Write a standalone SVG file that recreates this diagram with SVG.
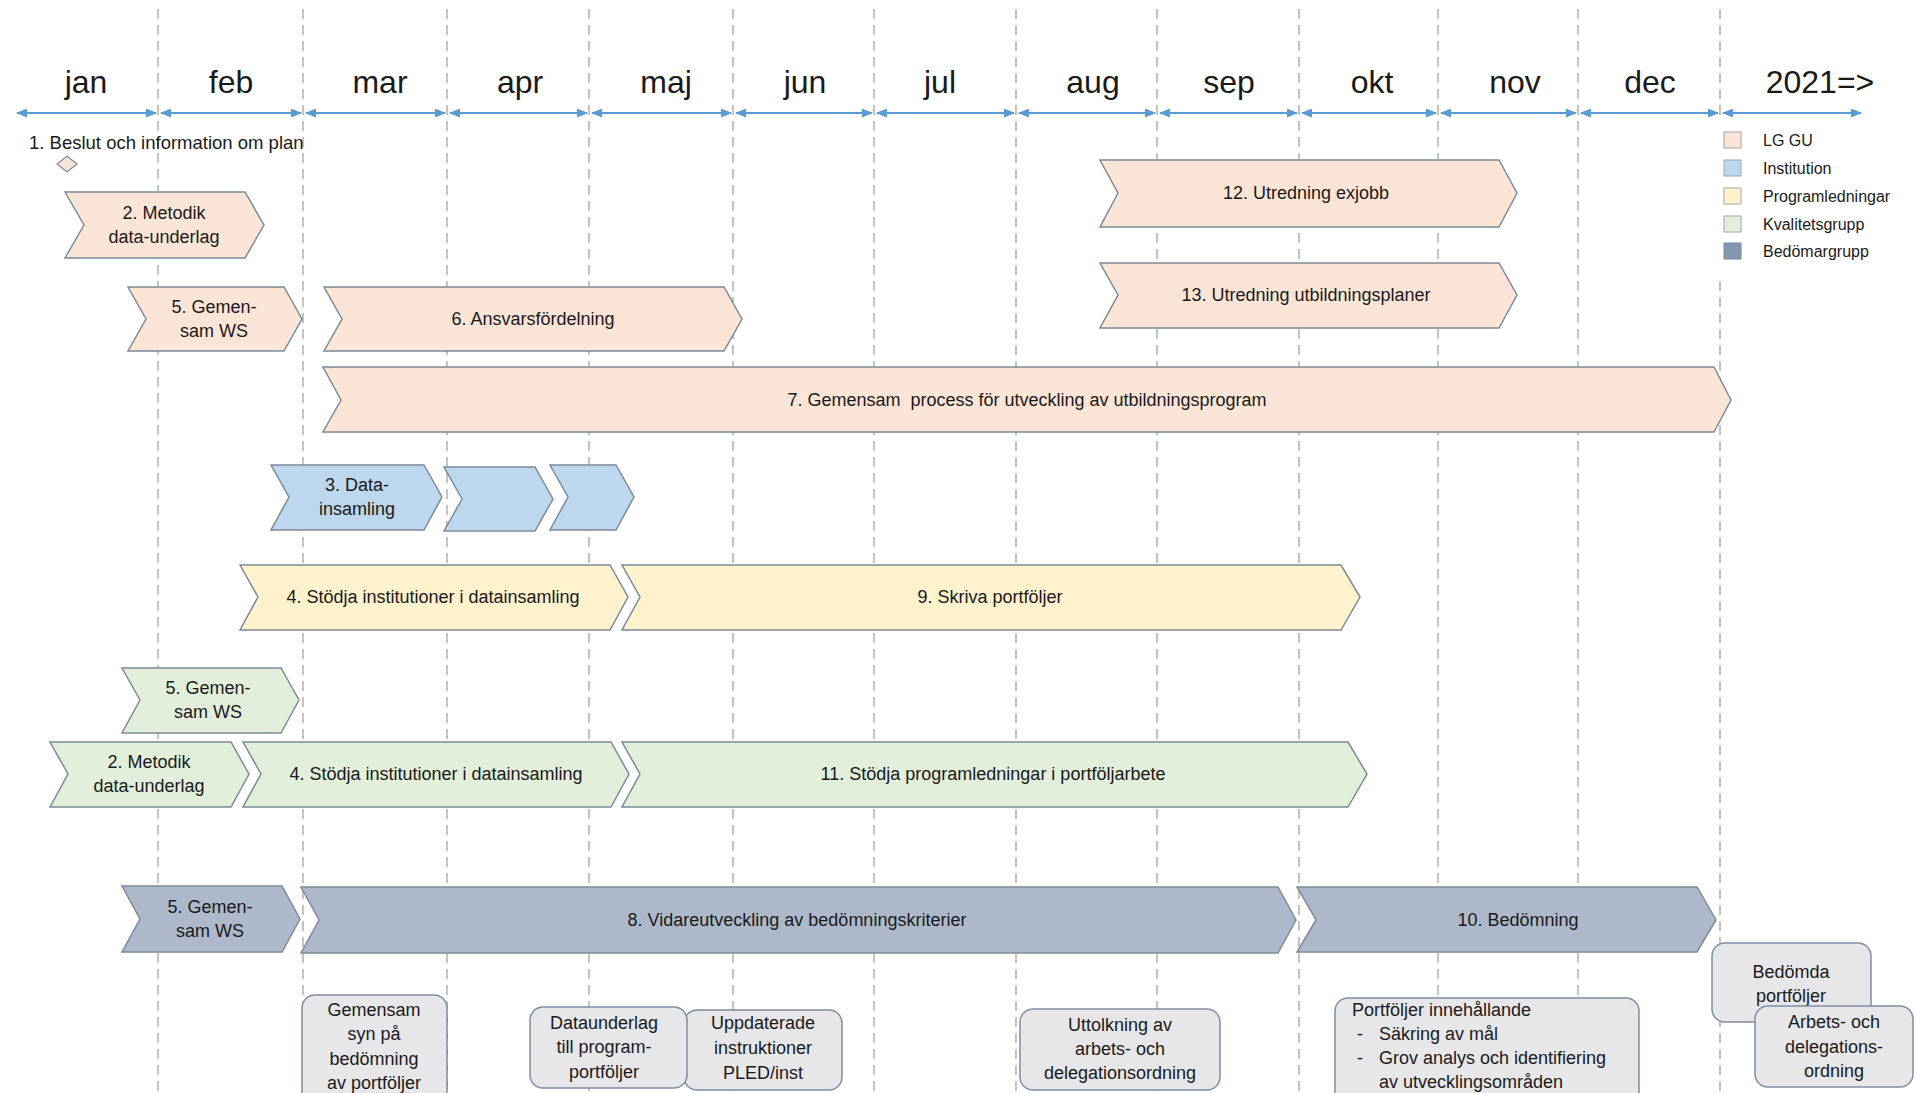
<svg xmlns="http://www.w3.org/2000/svg" width="1917" height="1093" viewBox="0 0 1917 1093">
<defs>
<marker id="ah" markerWidth="11" markerHeight="9" refX="10" refY="4.5" orient="auto-start-reverse" markerUnits="userSpaceOnUse">
<path d="M0,0 L11,4.5 L0,9 z" fill="#5B9BD5"/>
</marker>
<style>
.grid{stroke:#A3A3A3;stroke-width:1.3;stroke-dasharray:10 6;fill:none}
.axis{stroke:#5B9BD5;stroke-width:1.8;fill:none;marker-start:url(#ah);marker-end:url(#ah)}
.month{font-family:"Liberation Sans",Arial,sans-serif;font-size:32px;fill:#1a1a1a;text-anchor:middle}
.t{font-family:"Liberation Sans",Arial,sans-serif;font-size:18px;fill:#1a1a1a;text-anchor:middle}
.tl{font-family:"Liberation Sans",Arial,sans-serif;font-size:18px;fill:#1a1a1a}
.lg{font-family:"Liberation Sans",Arial,sans-serif;font-size:16px;fill:#1a1a1a}
.ch{stroke:#7D8A98;stroke-width:1.5;stroke-linejoin:miter}
.peach{fill:#FBE5D6}
.blue{fill:#BDD7EE}
.yellow{fill:#FFF2CC}
.green{fill:#E2EFDA}
.slate{fill:#ADB9CA}
.box{fill:#E7E7EA;stroke:#7F8FA4;stroke-width:1.5}
.sq{stroke:#A6A6A6;stroke-width:1}
</style>
</defs>
<rect width="1917" height="1093" fill="#FFFFFF"/>

<g id="grid">
<line class="grid" x1="158" y1="9" x2="158" y2="1093"/>
<line class="grid" x1="303" y1="9" x2="303" y2="1093"/>
<line class="grid" x1="447" y1="9" x2="447" y2="1093"/>
<line class="grid" x1="589" y1="9" x2="589" y2="1093"/>
<line class="grid" x1="733" y1="9" x2="733" y2="1093"/>
<line class="grid" x1="874" y1="9" x2="874" y2="1093"/>
<line class="grid" x1="1016" y1="9" x2="1016" y2="1093"/>
<line class="grid" x1="1157" y1="9" x2="1157" y2="1093"/>
<line class="grid" x1="1299" y1="9" x2="1299" y2="1093"/>
<line class="grid" x1="1438" y1="9" x2="1438" y2="1093"/>
<line class="grid" x1="1578" y1="9" x2="1578" y2="1093"/>
<line class="grid" x1="1720" y1="9" x2="1720" y2="1093"/>
</g>

<g id="months">
<text class="month" x="86" y="93">jan</text>
<text class="month" x="231" y="93">feb</text>
<text class="month" x="380" y="93">mar</text>
<text class="month" x="520" y="93">apr</text>
<text class="month" x="666" y="93">maj</text>
<text class="month" x="805" y="93">jun</text>
<text class="month" x="940" y="93">jul</text>
<text class="month" x="1093" y="93">aug</text>
<text class="month" x="1229" y="93">sep</text>
<text class="month" x="1372" y="93">okt</text>
<text class="month" x="1515" y="93">nov</text>
<text class="month" x="1650" y="93">dec</text>
<text class="month" x="1820" y="93">2021=&gt;</text>
</g>

<g id="connectors">
<line class="axis" x1="17" y1="113" x2="156" y2="113"/>
<line class="axis" x1="161" y1="113" x2="301" y2="113"/>
<line class="axis" x1="306" y1="113" x2="445" y2="113"/>
<line class="axis" x1="450" y1="113" x2="587" y2="113"/>
<line class="axis" x1="592" y1="113" x2="731" y2="113"/>
<line class="axis" x1="736" y1="113" x2="872" y2="113"/>
<line class="axis" x1="877" y1="113" x2="1014" y2="113"/>
<line class="axis" x1="1019" y1="113" x2="1155" y2="113"/>
<line class="axis" x1="1160" y1="113" x2="1297" y2="113"/>
<line class="axis" x1="1302" y1="113" x2="1436" y2="113"/>
<line class="axis" x1="1441" y1="113" x2="1576" y2="113"/>
<line class="axis" x1="1581" y1="113" x2="1718" y2="113"/>
<line class="axis" x1="1723" y1="113" x2="1861" y2="113"/>
</g>

<g id="legend">
<rect x="1686" y="117" width="231" height="159" fill="#FFFFFF"/>
<rect class="sq peach" x="1724" y="132" width="17" height="16"/>
<text class="lg" x="1763" y="146">LG GU</text>
<rect class="sq blue" x="1724" y="160" width="17" height="16"/>
<text class="lg" x="1763" y="174">Institution</text>
<rect class="sq yellow" x="1724" y="188" width="17" height="16"/>
<text class="lg" x="1763" y="202">Programledningar</text>
<rect class="sq green" x="1724" y="216" width="17" height="16"/>
<text class="lg" x="1763" y="230">Kvalitetsgrupp</text>
<rect x="1724" y="243" width="17" height="16" fill="#8497B0" stroke="#7A8AA0" stroke-width="1"/>
<text class="lg" x="1763" y="257">Bedömargrupp</text>
</g>

<g id="n1">
<text class="tl" x="29" y="149" style="font-size:18.5px">1. Beslut och information om plan</text>
<polygon points="57,164 67,156 77,164 67,172" fill="#F6E4DC" stroke="#8C8C8C" stroke-width="1.3"/>
</g>

<g id="n2-lg">
<polygon class="ch peach" points="65,192 245,192 264,225 245,258 65,258 84,225"/>
<text class="t" x="164" y="219">2. Metodik</text>
<text class="t" x="164" y="243">data-underlag</text>
</g>

<g id="n5-lg">
<polygon class="ch peach" points="128,287 284,287 302,319 284,351 128,351 146,319"/>
<text class="t" x="214" y="313">5. Gemen-</text>
<text class="t" x="214" y="337">sam WS</text>
</g>

<g id="n6">
<polygon class="ch peach" points="324,287 724,287 742,319 724,351 324,351 342,319"/>
<text class="t" x="533" y="325">6. Ansvarsfördelning</text>
</g>

<g id="n7">
<polygon class="ch peach" points="323,367 1714,367 1731,400 1714,432 323,432 341,400"/>
<text class="t" x="1027" y="406" xml:space="preserve">7. Gemensam  process för utveckling av utbildningsprogram</text>
</g>

<g id="n12">
<polygon class="ch peach" points="1100,160 1499,160 1517,193 1499,227 1100,227 1118,193"/>
<text class="t" x="1306" y="199">12. Utredning exjobb</text>
</g>

<g id="n13">
<polygon class="ch peach" points="1100,263 1499,263 1517,295 1499,328 1100,328 1118,295"/>
<text class="t" x="1306" y="301">13. Utredning utbildningsplaner</text>
</g>

<g id="n3">
<polygon class="ch blue" points="271,465 424,465 442,497 424,530 271,530 289,497"/>
<text class="t" x="357" y="491">3. Data-</text>
<text class="t" x="357" y="515">insamling</text>
<polygon class="ch blue" points="444,467 535,467 553,499 535,531 444,531 462,499"/>
<polygon class="ch blue" points="550,465 616,465 634,497 616,530 550,530 568,497"/>
</g>

<g id="n4-pl">
<polygon class="ch yellow" points="240,565 610,565 628,597 610,630 240,630 258,597"/>
<text class="t" x="433" y="603">4. Stödja institutioner i datainsamling</text>
</g>

<g id="n9">
<polygon class="ch yellow" points="622,565 1341,565 1360,597 1341,630 622,630 640,597"/>
<text class="t" x="990" y="603">9. Skriva portföljer</text>
</g>

<g id="n5-kg">
<polygon class="ch green" points="122,668 281,668 299,700 281,733 122,733 140,700"/>
<text class="t" x="208" y="694">5. Gemen-</text>
<text class="t" x="208" y="718">sam WS</text>
</g>

<g id="n2-kg">
<polygon class="ch green" points="50,742 231,742 249,774 231,807 50,807 68,774"/>
<text class="t" x="149" y="768">2. Metodik</text>
<text class="t" x="149" y="792">data-underlag</text>
</g>

<g id="n4-kg">
<polygon class="ch green" points="243,742 611,742 629,774 611,807 243,807 261,774"/>
<text class="t" x="436" y="780">4. Stödja institutioner i datainsamling</text>
</g>

<g id="n11">
<polygon class="ch green" points="622,742 1348,742 1367,774 1348,807 622,807 640,774"/>
<text class="t" x="993" y="780">11. Stödja programledningar i portföljarbete</text>
</g>

<g id="n5-bg">
<polygon class="ch slate" points="122,886 282,886 300,919 282,952 122,952 140,919"/>
<text class="t" x="210" y="913">5. Gemen-</text>
<text class="t" x="210" y="937">sam WS</text>
</g>

<g id="n8">
<polygon class="ch slate" points="301,887 1278,887 1296,920 1278,953 301,953 319,920"/>
<text class="t" x="797" y="926">8. Vidareutveckling av bedömningskriterier</text>
</g>

<g id="n10">
<polygon class="ch slate" points="1297,887 1697,887 1716,920 1697,952 1297,952 1316,920"/>
<text class="t" x="1518" y="926">10. Bedömning</text>
</g>

<g id="bA">
<rect class="box" x="302" y="995" width="145" height="110" rx="13"/>
<text class="t" x="374" y="1016">Gemensam</text>
<text class="t" x="374" y="1040">syn på</text>
<text class="t" x="374" y="1065">bedömning</text>
<text class="t" x="374" y="1089">av portföljer</text>
</g>

<g id="bC">
<rect class="box" x="684" y="1010" width="158" height="80" rx="13"/>
<text class="t" x="763" y="1029">Uppdaterade</text>
<text class="t" x="763" y="1054">instruktioner</text>
<text class="t" x="763" y="1079">PLED/inst</text>
</g>

<g id="bB">
<rect class="box" x="530" y="1007" width="157" height="81" rx="13"/>
<text class="t" x="604" y="1029">Dataunderlag</text>
<text class="t" x="604" y="1053">till program-</text>
<text class="t" x="604" y="1078">portföljer</text>
</g>

<g id="bD">
<rect class="box" x="1020" y="1009" width="200" height="81" rx="13"/>
<text class="t" x="1120" y="1031">Uttolkning av</text>
<text class="t" x="1120" y="1055">arbets- och</text>
<text class="t" x="1120" y="1079">delegationsordning</text>
</g>

<g id="bE">
<rect class="box" x="1335" y="998" width="304" height="110" rx="13"/>
<text class="tl" x="1352" y="1016">Portföljer innehållande</text>
<text class="tl" x="1357" y="1040">-</text>
<text class="tl" x="1379" y="1040">Säkring av mål</text>
<text class="tl" x="1357" y="1064">-</text>
<text class="tl" x="1379" y="1064">Grov analys och identifiering</text>
<text class="tl" x="1379" y="1088">av utvecklingsområden</text>
</g>

<g id="bF">
<rect class="box" x="1712" y="943" width="159" height="79" rx="13"/>
<text class="t" x="1791" y="978">Bedömda</text>
<text class="t" x="1791" y="1002">portföljer</text>
</g>

<g id="bG">
<rect class="box" x="1755" y="1006" width="158" height="81" rx="13"/>
<text class="t" x="1834" y="1028">Arbets- och</text>
<text class="t" x="1834" y="1053">delegations-</text>
<text class="t" x="1834" y="1077">ordning</text>
</g>
</svg>
